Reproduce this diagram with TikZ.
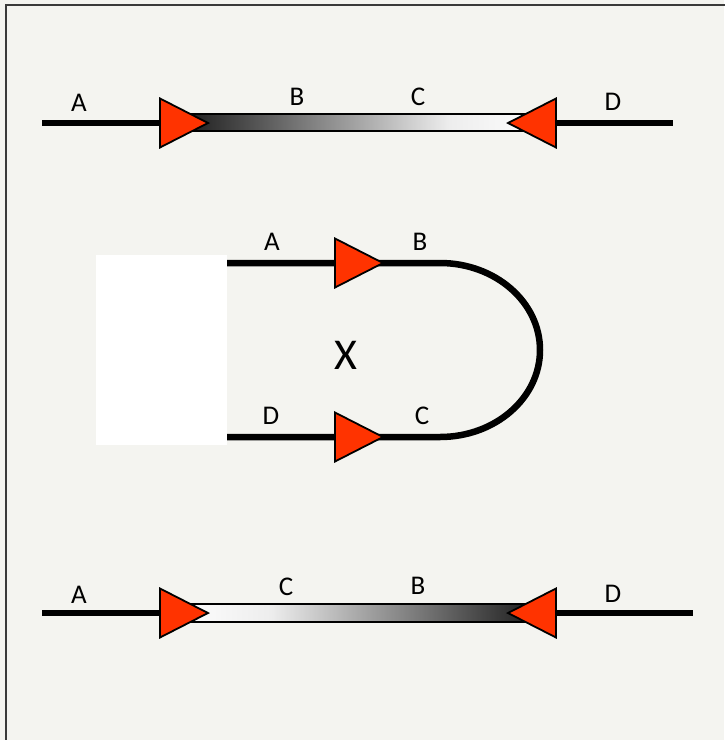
\documentclass[tikz,border=0pt]{standalone}
\usepackage{fontspec}
\setmainfont{Carlito}
\definecolor{PageGray}{HTML}{F4F4F0}
\definecolor{FrameGray}{HTML}{3A3A3A}
\definecolor{ArrowRed}{HTML}{FF3300}
\definecolor{BarDark}{HTML}{262626}
\definecolor{BarLight}{HTML}{EDEDED}
\pgfdeclarehorizontalshading{darktolight}{100bp}{color(0bp)=(BarDark); color(28bp)=(BarDark);
  color(62bp)=(BarLight); color(75bp)=(white); color(100bp)=(white)}
\pgfdeclarehorizontalshading{lighttodark}{100bp}{color(0bp)=(white); color(25bp)=(white);
  color(38bp)=(BarLight); color(72bp)=(BarDark); color(100bp)=(BarDark)}

\begin{document}
\begin{tikzpicture}[x=1pt,y=-1pt,
    wire/.style={line width=6.5pt,black},
    lbl/.style={font=\fontsize{27}{30}\selectfont,inner sep=0pt},
    bar/.style={draw=black,line width=1.5pt},
    tri/.pic={\filldraw[fill=ArrowRed,draw=black,line width=1.8pt,line join=miter]
      (0,-24.5) -- (48,0) -- (0,24.5) -- cycle;}]
  % page
  \fill[PageGray] (0,0) rectangle (724,740);
  \useasboundingbox (0,0) rectangle (724,740);
  \draw[FrameGray,line width=2pt] (6,745) -- (6,5) -- (730,5);

  % top strand
  \coordinate (tA) at (42,123);
  \coordinate (tL) at (160,123);
  \coordinate (tR) at (556,123);
  \coordinate (tD) at (673,123);
  \draw[wire] (tA) -- (tL);
  \draw[wire] (tR) -- (tD);
  \shade[bar,shading=darktolight] (175,114) rectangle (545,131);
  \pic at (tL) {tri};
  \pic[xscale=-1] at (tR) {tri};
  \node[lbl] (tlA) at (79,103) {A};
  \node[lbl] (tlB) at (297,97) {B};
  \node[lbl] (tlC) at (418,97) {C};
  \node[lbl] (tlD) at (613,102) {D};

  % hairpin
  \fill[white] (96,255) rectangle (227,445);
  \coordinate (hA) at (227,263);
  \coordinate (hB) at (335,263);
  \coordinate (hD) at (227,437);
  \coordinate (hC) at (335,437);
  \draw[wire,line join=round] (hA) -- (440,263)
    arc[start angle=-90,end angle=90,x radius=100,y radius=87] -- (hD);
  \pic at (hB) {tri};
  \pic at (hC) {tri};
  \node[lbl] (mlA) at (272,242) {A};
  \node[lbl] (mlB) at (420,242) {B};
  \node[lbl] (mlD) at (271,416) {D};
  \node[lbl] (mlC) at (422,416) {C};
  \node[font=\fontsize{44}{48}\selectfont,inner sep=0pt] (mlX) at (346,355) {X};

  % bottom strand
  \coordinate (bA) at (42,613);
  \coordinate (bL) at (160,613);
  \coordinate (bR) at (556,613);
  \coordinate (bD) at (693,613);
  \draw[wire] (bA) -- (bL);
  \draw[wire] (bR) -- (bD);
  \shade[bar,shading=lighttodark] (175,604) rectangle (545,622);
  \pic at (bL) {tri};
  \pic[xscale=-1] at (bR) {tri};
  \node[lbl] (blA) at (79,595) {A};
  \node[lbl] (blC) at (286,587) {C};
  \node[lbl] (blB) at (418,586) {B};
  \node[lbl] (blD) at (613,594) {D};
\end{tikzpicture}
\end{document}
